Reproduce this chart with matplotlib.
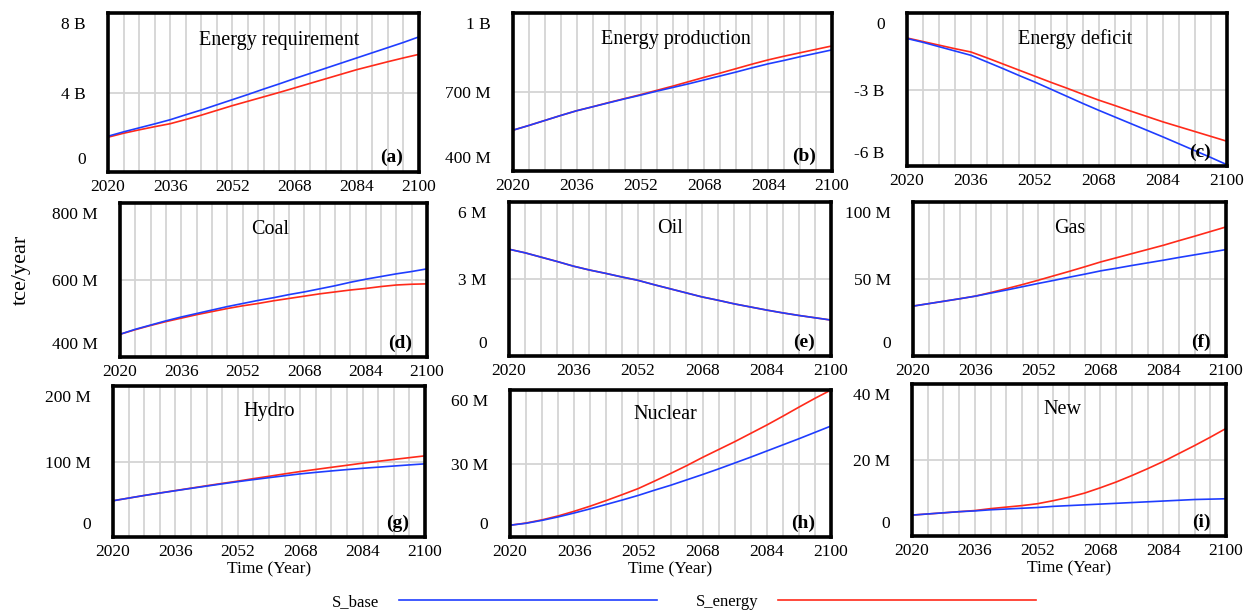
import matplotlib
matplotlib.use('Agg')
import matplotlib.pyplot as plt
import matplotlib.transforms as mtransforms
from matplotlib.lines import Line2D
import numpy as np

plt.rcParams['font.family'] = ['Liberation Serif', 'DejaVu Serif']

years = np.arange(2020, 2101, 4)

# (a) energy requirement, billion tce/year
req_base = [1.80, 2.02, 2.22, 2.42, 2.63, 2.88, 3.12, 3.38, 3.64, 3.90, 4.17,
            4.43, 4.70, 4.96, 5.22, 5.48, 5.74, 6.00, 6.26, 6.52, 6.80]
req_energy = [1.75, 1.95, 2.12, 2.28, 2.43, 2.64, 2.86, 3.10, 3.34, 3.56, 3.78,
              4.00, 4.23, 4.46, 4.69, 4.92, 5.15, 5.35, 5.55, 5.74, 5.92]
# (b) energy production, million
prod_base = [555, 573, 592, 611, 629, 644, 659, 674, 688, 703, 717,
             731, 746, 761, 776, 792, 807, 820, 834, 847, 860]
prod_energy = [555, 573, 592, 611, 629, 644, 660, 675, 690, 706, 722,
               739, 756, 772, 789, 806, 822, 836, 849, 862, 875]
# (c) energy deficit, billion
def_base = [-1.00, -1.15, -1.32, -1.49, -1.66, -1.92, -2.18, -2.45, -2.71, -2.99, -3.27,
            -3.55, -3.82, -4.08, -4.34, -4.60, -4.86, -5.13, -5.40, -5.67, -5.95]
def_energy = [-0.98, -1.12, -1.26, -1.40, -1.53, -1.76, -2.00, -2.24, -2.48, -2.72, -2.95,
              -3.19, -3.42, -3.63, -3.85, -4.06, -4.27, -4.46, -4.65, -4.84, -5.03]
# (d) coal, million
coal_base = [459, 472, 483, 494, 504, 513, 522, 531, 539, 547, 554,
             562, 569, 577, 585, 594, 602, 609, 616, 622, 629]
coal_energy = [459, 471, 482, 492, 501, 510, 518, 526, 533, 539, 546,
               552, 558, 564, 569, 574, 578, 583, 587, 589, 590]
# (e) oil, million
oil_base = [4.16, 4.02, 3.85, 3.68, 3.50, 3.35, 3.22, 3.08, 2.95, 2.78, 2.62,
            2.46, 2.30, 2.17, 2.03, 1.91, 1.79, 1.68, 1.58, 1.49, 1.40]
oil_energy = [4.16, 4.02, 3.85, 3.68, 3.50, 3.35, 3.22, 3.08, 2.95, 2.78, 2.62,
              2.46, 2.30, 2.17, 2.03, 1.91, 1.79, 1.68, 1.58, 1.49, 1.40]
# (f) gas, million
gas_base = [32.4, 34.0, 35.6, 37.2, 38.9, 40.9, 42.9, 45.0, 47.1, 49.1, 51.2,
            53.2, 55.3, 57.0, 58.8, 60.5, 62.2, 64.0, 65.7, 67.4, 69.1]
gas_energy = [32.4, 34.0, 35.6, 37.2, 38.9, 41.3, 43.8, 46.4, 49.2, 52.1, 55.0,
              58.0, 61.1, 63.8, 66.5, 69.2, 71.9, 74.9, 77.8, 80.8, 83.8]
# (g) hydro, million
hydro_base = [48.0, 51.5, 55.0, 58.2, 61.3, 64.4, 67.4, 70.4, 73.3, 76.0, 78.6,
              81.1, 83.6, 85.6, 87.5, 89.3, 91.0, 92.5, 94.0, 95.5, 96.9]
hydro_energy = [48.0, 51.5, 55.0, 58.3, 61.5, 64.7, 67.9, 71.0, 74.0, 77.3, 80.4,
                83.6, 86.7, 89.5, 92.3, 95.0, 97.8, 100.3, 102.7, 105.1, 107.5]
# (h) nuclear, million
nuc_base = [4.8, 5.6, 6.8, 8.2, 9.8, 11.5, 13.3, 15.1, 17.0, 19.1, 21.1,
            23.3, 25.5, 27.8, 30.2, 32.6, 35.1, 37.6, 40.1, 42.7, 45.3]
nuc_energy = [4.8, 5.7, 7.0, 8.6, 10.5, 12.6, 14.9, 17.3, 19.8, 22.8, 25.9,
              29.1, 32.5, 35.7, 38.9, 42.3, 45.7, 49.3, 53.0, 56.6, 60.0]
# (i) new energy, million
new_base = [5.5, 5.8, 6.1, 6.4, 6.6, 6.9, 7.1, 7.3, 7.5, 7.8, 8.0,
            8.2, 8.4, 8.6, 8.8, 9.0, 9.2, 9.4, 9.6, 9.7, 9.8]
new_energy = [5.5, 5.8, 6.1, 6.4, 6.7, 7.2, 7.6, 8.0, 8.5, 9.3, 10.2,
              11.3, 12.7, 14.2, 15.9, 17.7, 19.6, 21.7, 23.8, 26.0, 28.3]

titles = ['Energy requirement', 'Energy production', 'Energy deficit',
          'Coal', 'Oil', 'Gas', 'Hydro', 'Nuclear', 'New']
tags = ['(a)', '(b)', '(c)', '(d)', '(e)', '(f)', '(g)', '(h)', '(i)']
base_series = [req_base, prod_base, def_base, coal_base, oil_base,
               gas_base, hydro_base, nuc_base, new_base]
energy_series = [req_energy, prod_energy, def_energy, coal_energy, oil_energy,
                 gas_energy, hydro_energy, nuc_energy, new_energy]
y_ticks = [[0, 4, 8], [400, 700, 1000], [-6, -3, 0], [400, 600, 800], [0, 3, 6],
           [0, 50, 100], [0, 100, 200], [0, 30, 60], [0, 20, 40]]
y_ticklabels = [['0', '4 B', '8 B'], ['400 M', '700 M', '1 B'], ['-6 B', '-3 B', '0'],
                ['400 M', '600 M', '800 M'], ['0', '3 M', '6 M'], ['0', '50 M', '100 M'],
                ['0', '100 M', '200 M'], ['0', '30 M', '60 M'], ['0', '20 M', '40 M']]
x_ticks = [2020, 2036, 2052, 2068, 2084, 2100]

# axes boxes in pixels: left, right, top, bottom
W, H = 1250, 613
boxes = [(108, 419, 13, 172), (513, 832, 13, 171), (907, 1227, 13, 166),
         (120, 427, 203, 357), (509, 831, 202, 356), (913, 1226, 202, 356),
         (113, 425, 386, 537), (510, 831, 390, 537), (912, 1226, 384, 536)]
title_x = [0.55, 0.51, 0.525, 0.49, 0.5, 0.5, 0.5, 0.485, 0.48]

BLUE = '#1f3dff'
RED = '#ff2a1a'

fig = plt.figure(figsize=(W / 100, H / 100), dpi=100)

for i in range(9):
    l, r, t, b = boxes[i]
    ax = fig.add_axes([l / W, 1 - b / H, (r - l) / W, (b - t) / H])
    ax.plot(years, base_series[i], color=BLUE, lw=1.2, zorder=3)
    ax.plot(years, energy_series[i], color=RED, lw=1.2, zorder=2)
    ax.set_xlim(2020, 2100)
    ax.set_ylim(y_ticks[i][0], y_ticks[i][-1])
    ax.set_xticks(x_ticks)
    ax.set_xticks(np.arange(2020, 2101, 4), minor=True)
    ax.set_yticks(y_ticks[i])
    ax.set_yticklabels(y_ticklabels[i])
    ax.tick_params(axis='both', which='both', length=0, labelsize=12.5)
    ax.tick_params(axis='y', pad=16)
    ax.tick_params(axis='x', pad=5)
    labs = ax.get_yticklabels()
    labs[0].set_va('bottom')
    labs[-1].set_va('top')
    labs[0].set_transform(labs[0].get_transform() +
                          mtransforms.ScaledTranslation(0, 3 / 72, fig.dpi_scale_trans))
    labs[-1].set_transform(labs[-1].get_transform() +
                           mtransforms.ScaledTranslation(0, -3 / 72, fig.dpi_scale_trans))
    ax.grid(True, which='both', axis='x', color='#d4d4d4', lw=1.3)
    ax.grid(True, which='major', axis='y', color='#d4d4d4', lw=1.3)
    for sp in ax.spines.values():
        sp.set_linewidth(2.6)
        sp.set_color('black')
        sp.set_zorder(5)
    ax.text(title_x[i], 0.83, titles[i], transform=ax.transAxes,
            ha='center', va='center', fontsize=14.5)
    ax.text(0.95, 0.09, tags[i], transform=ax.transAxes, ha='right',
            va='center', fontsize=14, fontweight='bold')
    if i >= 6:
        ax.set_xlabel('Time (Year)', fontsize=12.5, labelpad=1)

fig.text(0.017, 1 - 270 / H, 'tce/year', rotation=90, ha='center',
         va='center', fontsize=16)

handles = [Line2D([], [], color=BLUE, lw=1.2), Line2D([], [], color=RED, lw=1.2)]
fig.legend(handles, ['S_base', 'S_energy'], loc='center', ncol=2,
           bbox_to_anchor=(684 / W, 1 - 602 / H), frameon=False,
           markerfirst=False, handlelength=15.5, handletextpad=1.2,
           columnspacing=2.3, fontsize=12)

fig.savefig('out.png', dpi=100)
